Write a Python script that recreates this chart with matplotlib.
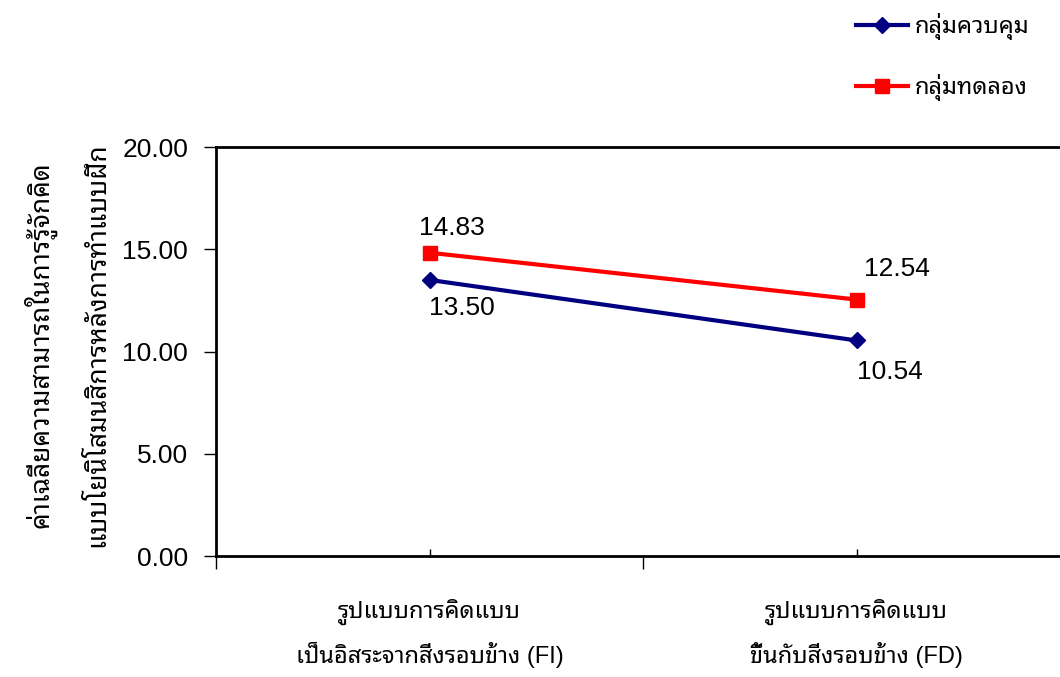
import matplotlib
matplotlib.use('Agg')
import matplotlib.pyplot as plt

# Data
categories = ['รูปแบบการคิดแบบ\nเป็นอิสระจากสิ่งรอบข้าง (FI)',
              'รูปแบบการคิดแบบ\nขึ้นกับสิ่งรอบข้าง (FD)']
control = [13.50, 10.54]
experiment = [14.83, 12.54]
series_names = ['กลุ่มควบคุม', 'กลุ่มทดลอง']
y_ticks = [0, 5, 10, 15, 20]
y_label_lines = ['ค่าเฉลี่ยความสามารถในการรู้จักคิด',
                 'แบบโยนิโสมนสิการหลังการทำแบบฝึก']

THAI = ['Liberation Sans', 'Noto Sans Thai Looped', 'DejaVu Sans']
plt.rcParams['font.family'] = THAI

fig = plt.figure(figsize=(10.6, 6.77), dpi=100)
ax = fig.add_axes([216 / 1060, 121 / 677, 854 / 1060, 409 / 677])

x = list(range(len(categories)))
ax.plot(x, control, color='#000080', lw=3, marker='D', ms=8.5,
        label=series_names[0], clip_on=False, zorder=3)
ax.plot(x, experiment, color='#FF0000', lw=3, marker='s', ms=10,
        label=series_names[1], clip_on=False, zorder=3)

# data labels
offsets_c = [(23, -20), (24, -23)]
offsets_e = [(16, 18), (29, 22)]
for i in x:
    ax.annotate(f'{control[i]:.2f}', (i, control[i]), xytext=offsets_c[i],
                textcoords='offset points', ha='center', va='center', fontsize=19)
    ax.annotate(f'{experiment[i]:.2f}', (i, experiment[i]), xytext=offsets_e[i],
                textcoords='offset points', ha='center', va='center', fontsize=19)

# axes style
ax.set_xlim(-0.5, len(categories) - 0.5)
ax.set_ylim(0, 20)
ax.set_yticks(y_ticks)
ax.set_yticklabels([f'{v:.2f}' for v in y_ticks], fontsize=19)
ax.tick_params(axis='y', direction='out', length=9, width=1, pad=11)

ax.set_xticks([i - 0.5 for i in range(len(categories) + 1)])
ax.set_xticklabels([])
ax.tick_params(axis='x', which='major', direction='out', length=9, width=1)
ax.set_xticks(x, minor=True)
ax.set_xticklabels(categories, minor=True, fontsize=17, linespacing=1.8)
ax.tick_params(axis='x', which='minor', direction='in', length=5, width=1, pad=31)
for lab in ax.get_xticklabels(minor=True):
    lab.set_va('top')

for side in ['left', 'bottom', 'top']:
    ax.spines[side].set_linewidth(2)
ax.spines['right'].set_visible(False)

# y label as two lines
fig.text(40 / 1060, 1 - 345 / 677, y_label_lines[0], rotation=90,
         ha='center', va='center', fontsize=19)
fig.text(97 / 1060, 1 - 345 / 677, y_label_lines[1], rotation=90,
         ha='center', va='center', fontsize=19)

fig.legend(loc='upper left', bbox_to_anchor=(844 / 1060, 1 - 1 / 677),
           frameon=False, fontsize=17, handlelength=2.2, handletextpad=0.3,
           labelspacing=1.45, borderpad=0)

fig.savefig('out.png', dpi=100)
